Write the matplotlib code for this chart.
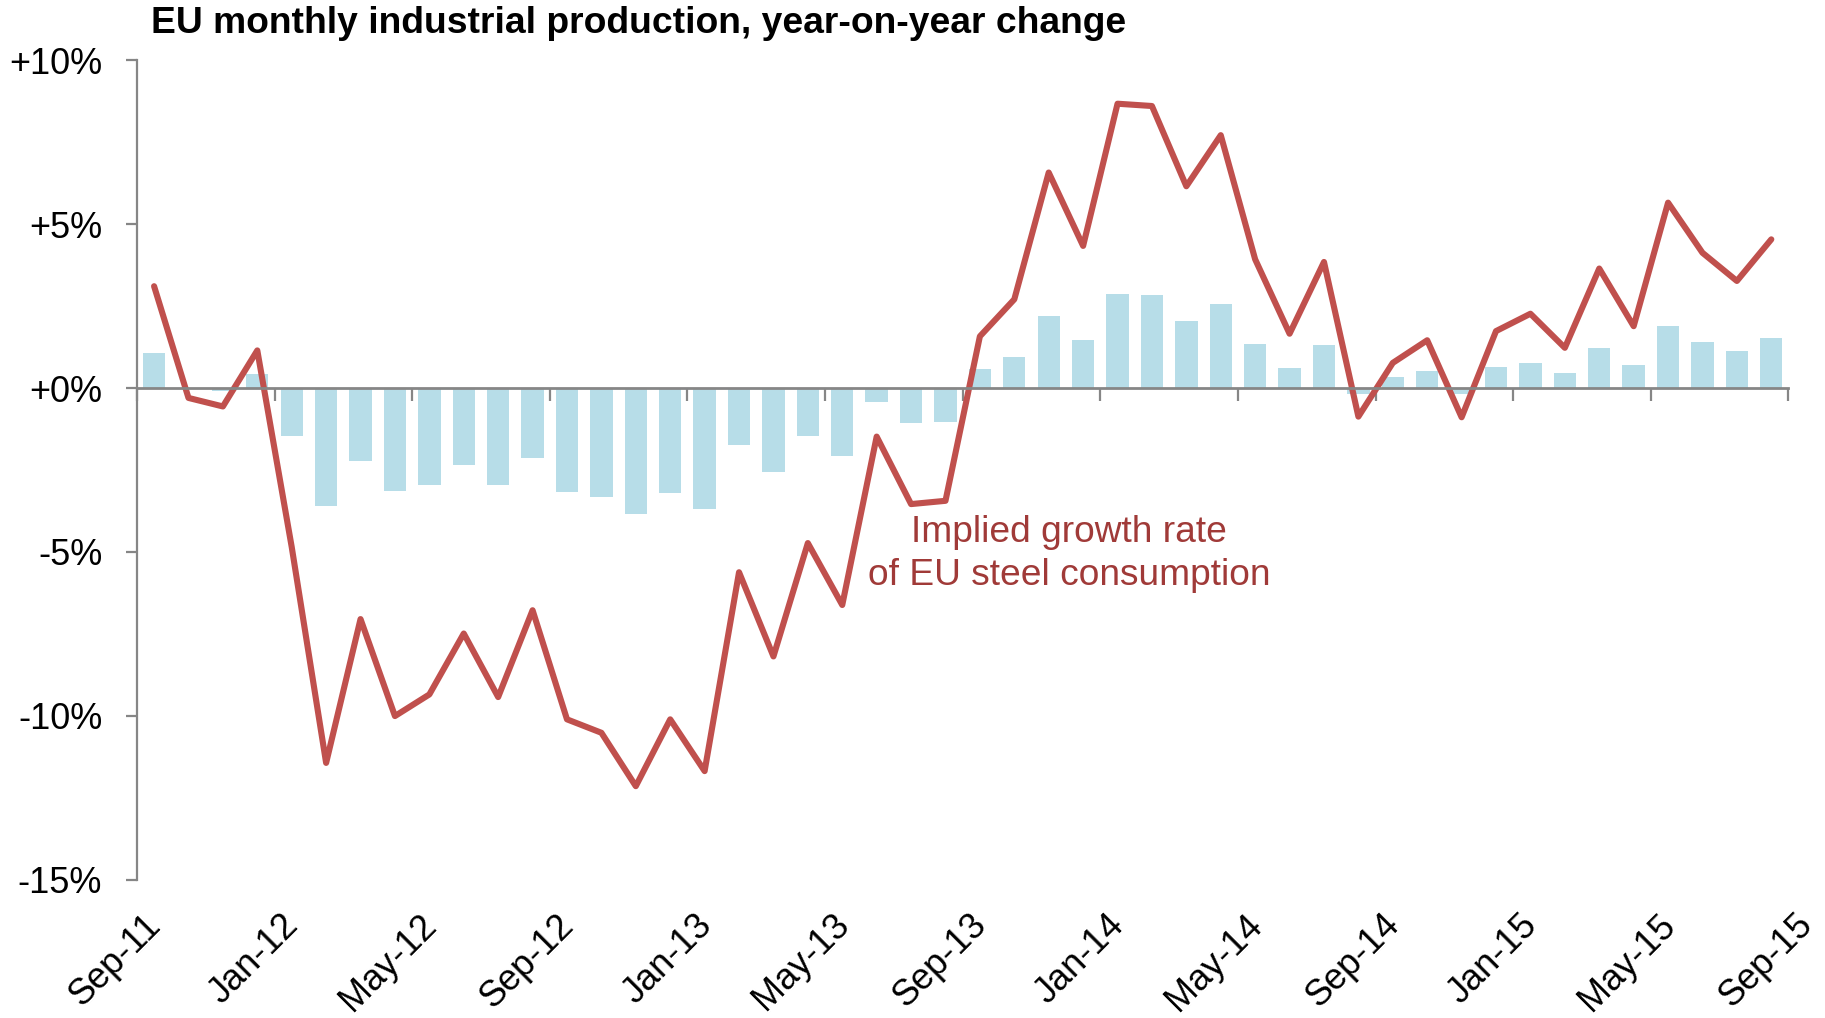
import matplotlib
matplotlib.use("Agg")
import matplotlib.pyplot as plt
import matplotlib.transforms as mtransforms
import numpy as np

plt.rcParams['font.family'] = ['Liberation Sans', 'DejaVu Sans']

months = ["Sep-11", "Oct-11", "Nov-11", "Dec-11", "Jan-12", "Feb-12", "Mar-12", "Apr-12",
          "May-12", "Jun-12", "Jul-12", "Aug-12", "Sep-12", "Oct-12", "Nov-12", "Dec-12",
          "Jan-13", "Feb-13", "Mar-13", "Apr-13", "May-13", "Jun-13", "Jul-13", "Aug-13",
          "Sep-13", "Oct-13", "Nov-13", "Dec-13", "Jan-14", "Feb-14", "Mar-14", "Apr-14",
          "May-14", "Jun-14", "Jul-14", "Aug-14", "Sep-14", "Oct-14", "Nov-14", "Dec-14",
          "Jan-15", "Feb-15", "Mar-15", "Apr-15", "May-15", "Jun-15", "Jul-15", "Aug-15"]

industrial_production = [1.07, 0.0, -0.09, 0.42, -1.47, -3.61, -2.21, -3.15,
                         -2.96, -2.35, -2.96, -2.12, -3.18, -3.33, -3.84, -3.20,
                         -3.70, -1.73, -2.57, -1.46, -2.07, -0.41, -1.07, -1.04,
                         0.57, 0.94, 2.19, 1.46, 2.86, 2.83, 2.06, 2.56,
                         1.34, 0.61, 1.31, -0.19, 0.33, 0.53, -0.19, 0.63,
                         0.78, 0.46, 1.23, 0.69, 1.89, 1.40, 1.12, 1.52]

steel_consumption = [3.11, -0.30, -0.56, 1.15, -4.85, -11.44, -7.05, -10.01,
                     -9.35, -7.49, -9.43, -6.78, -10.11, -10.52, -12.15, -10.11,
                     -11.69, -5.62, -8.19, -4.73, -6.62, -1.48, -3.54, -3.44,
                     1.58, 2.71, 6.58, 4.34, 8.68, 8.61, 6.16, 7.72,
                     3.93, 1.66, 3.85, -0.87, 0.77, 1.46, -0.89, 1.74,
                     2.27, 1.23, 3.65, 1.89, 5.66, 4.13, 3.27, 4.54]

tick_labels = ["Sep-11", "Jan-12", "May-12", "Sep-12", "Jan-13", "May-13", "Sep-13",
               "Jan-14", "May-14", "Sep-14", "Jan-15", "May-15", "Sep-15"]
y_ticks = [10, 5, 0, -5, -10, -15]
y_tick_labels = ["+10%", "+5%", "+0%", "-5%", "-10%", "-15%"]

title = "EU monthly industrial production, year-on-year change"
annotation = "Implied growth rate\nof EU steel consumption"

bar_color = "#B7DDE8"
line_color = "#C0504D"
text_red = "#A03A38"
axis_gray = "#868686"

fig = plt.figure(figsize=(18.25, 10.18), dpi=100)
ax = fig.add_axes([0.075, 0.136, 0.905, 0.8046])

x = np.arange(len(months))
ax.bar(x, industrial_production, width=0.65, color=bar_color, zorder=2)
ax.plot(x, steel_consumption, color=line_color, lw=4.4, zorder=3,
        solid_joinstyle='round', solid_capstyle='round')

ax.set_xlim(-0.5, len(months) - 0.5)
ax.set_ylim(-15, 10)

for s in ['top', 'right']:
    ax.spines[s].set_visible(False)
ax.spines['left'].set_color(axis_gray)
ax.spines['left'].set_linewidth(1.6)
ax.spines['bottom'].set_position(('data', 0))
ax.spines['bottom'].set_color(axis_gray)
ax.spines['bottom'].set_linewidth(2.0)
ax.spines['bottom'].set_zorder(4)

ax.set_yticks(y_ticks)
ax.set_yticklabels(y_tick_labels)
ax.tick_params(axis='y', direction='out', length=8, width=1.6, color=axis_gray,
               labelsize=26, pad=17, labelcolor='black')

boundaries = np.arange(-0.5, len(months), 4)
ax.set_xticks(boundaries)
ax.set_xticklabels([])
ax.tick_params(axis='x', direction='out', length=9, width=1.6, color=axis_gray)

# category labels along the bottom of the plot
sec = ax.secondary_xaxis(0.0)
sec.spines['bottom'].set_visible(False)
sec.set_xticks(boundaries)
sec.set_xticklabels(tick_labels, rotation=45, ha='right', va='center',
                    rotation_mode='anchor', fontsize=26)
sec.tick_params(axis='x', length=0, pad=29)
offset = mtransforms.ScaledTranslation(19 / 100, 0, fig.dpi_scale_trans)
for lab in sec.get_xticklabels():
    lab.set_transform(lab.get_transform() + offset)

ax.text(26.59, -5.05, annotation, color=text_red, fontsize=26.7, ha='center',
        va='center', multialignment='center', linespacing=1.3, zorder=5)

fig.text(0.0827, 0.9676, title, fontsize=26.8, fontweight='bold', ha='left',
         va='baseline', color='black')

fig.savefig("out.png", dpi=100)
